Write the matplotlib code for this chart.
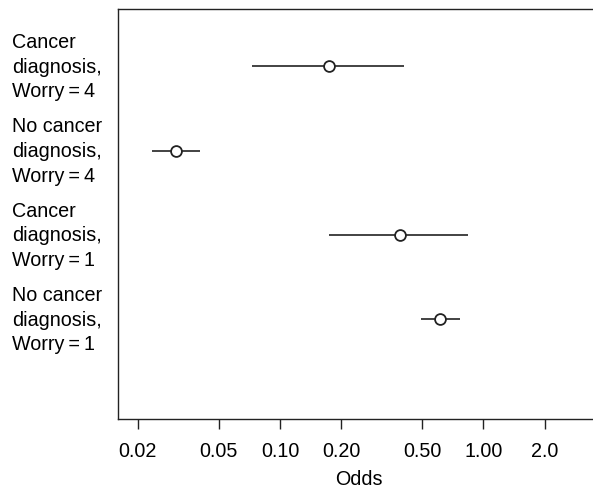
import matplotlib
matplotlib.use("Agg")
import matplotlib.pyplot as plt
import matplotlib.transforms as mtransforms

# =========================
# DATA
# =========================
labels = [
    "Cancer\ndiagnosis,\nWorry\u2009=\u20094",
    "No cancer\ndiagnosis,\nWorry\u2009=\u20094",
    "Cancer\ndiagnosis,\nWorry\u2009=\u20091",
    "No cancer\ndiagnosis,\nWorry\u2009=\u20091",
]
rows = [4, 3, 2, 1]
odds = [0.174, 0.0308, 0.388, 0.612]
lower = [0.0726, 0.0234, 0.175, 0.494]
upper = [0.407, 0.0404, 0.843, 0.766]

tick_values = [0.02, 0.05, 0.10, 0.20, 0.50, 1.00, 2.0]
tick_labels = ["0.02", "0.05", "0.10", "0.20", "0.50", "1.00", "2.0"]

# =========================
# PLOT
# =========================
plt.rcParams["font.family"] = ["Liberation Sans", "DejaVu Sans"]
FS = 14.2
INK = "#222222"

fig = plt.figure(figsize=(5.93, 4.89), dpi=100)
W, H = 593, 489
left_px, right_px, top_px, bottom_px = 118, 600, 10, 419.5
ax = fig.add_axes([left_px / W, 1 - bottom_px / H,
                   (right_px - left_px) / W, (bottom_px - top_px) / H])

for y, lo, hi, o in zip(rows, lower, upper, odds):
    ax.plot([lo, hi], [y, y], color=INK, lw=1.2, solid_capstyle="butt")
    ax.plot(o, y, marker="o", ms=7.8, mfc="white", mec=INK, mew=1.3)

ax.set_xscale("log")
ax.set_xlim(0.01596, 3.75)
ax.set_ylim(-0.18, 4.68)

ax.set_xticks(tick_values)
ax.set_xticklabels(tick_labels, fontsize=FS)
ax.xaxis.set_minor_locator(matplotlib.ticker.NullLocator())
ax.tick_params(axis="x", direction="out", length=7.5, width=1, color=INK, pad=9)
ax.set_yticks([])
ax.set_xlabel("Odds", fontsize=FS, labelpad=6)

for side in ["left", "top", "bottom"]:
    ax.spines[side].set_color(INK)
    ax.spines[side].set_linewidth(1)
ax.spines["right"].set_visible(False)

# row labels, left aligned near the figure edge
trans = mtransforms.blended_transform_factory(fig.transFigure, ax.transData)
for y, lab in zip(rows, labels):
    ax.text(12 / W, y, lab, transform=trans, ha="left", va="center",
            fontsize=FS, linespacing=1.38, clip_on=False)

fig.savefig("out.png", dpi=100)
